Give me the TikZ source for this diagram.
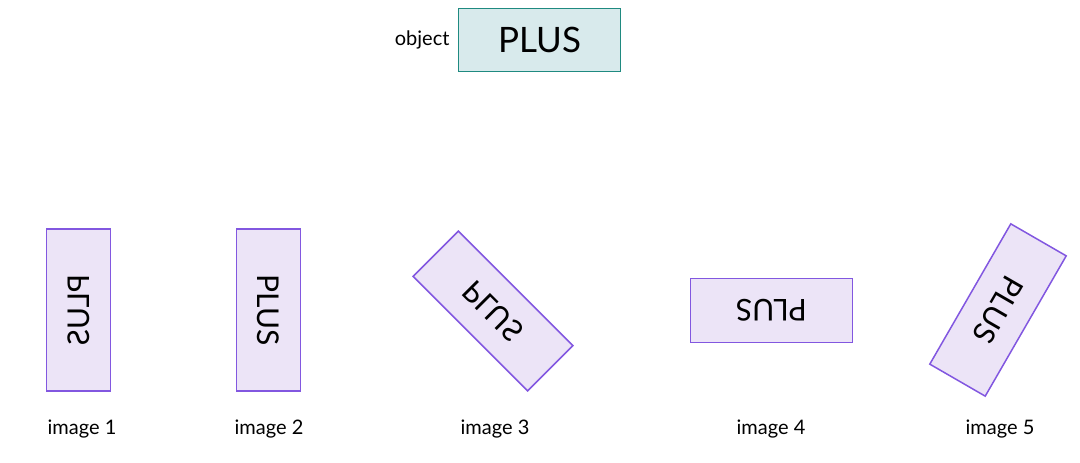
\documentclass[tikz,border=0pt]{standalone}
\usepackage{fontspec}
\setmainfont{Lato}
\definecolor{pfill}{HTML}{ECE4F7}
\definecolor{pdraw}{HTML}{8257E0}
\definecolor{tfill}{HTML}{D8EAEC}
\definecolor{tdraw}{HTML}{1F8A80}
\begin{document}
\begin{tikzpicture}[x=1pt,y=-1pt,
  imgbox/.style={draw=pdraw,fill=pfill,line width=1.5pt,minimum width=162pt,minimum height=64pt,inner sep=0pt,font=\fontsize{30}{30}\selectfont},
  lbl/.style={font=\fontsize{20}{20}\selectfont}]
\useasboundingbox (0,0) rectangle (1080,463);
\node[draw=tdraw,fill=tfill,line width=1.5pt,minimum width=162pt,minimum height=63pt,inner sep=0pt,font=\fontsize{35}{35}\selectfont] (obj) at (539.5,40) {PLUS};
\node[lbl,anchor=east] (objl) at (453,40) {object};
\node[imgbox,rotate=-90,yscale=-1] (i1) at (78.5,310) {PLUS};
\node[imgbox,rotate=-90] (i2) at (268.5,310) {PLUS};
\node[imgbox,rotate=-45,yscale=-1] (i3) at (493,311) {PLUS};
\node[imgbox,rotate=180] (i4) at (771.5,310.5) {PLUS};
\node[imgbox,rotate=-120] (i5) at (998,310) {PLUS};
\node[lbl] (l1) at (82,429) {image 1};
\node[lbl] (l2) at (269,429) {image 2};
\node[lbl] (l3) at (495,429) {image 3};
\node[lbl] (l4) at (771,429) {image 4};
\node[lbl] (l5) at (1000,429) {image 5};
\end{tikzpicture}
\end{document}
